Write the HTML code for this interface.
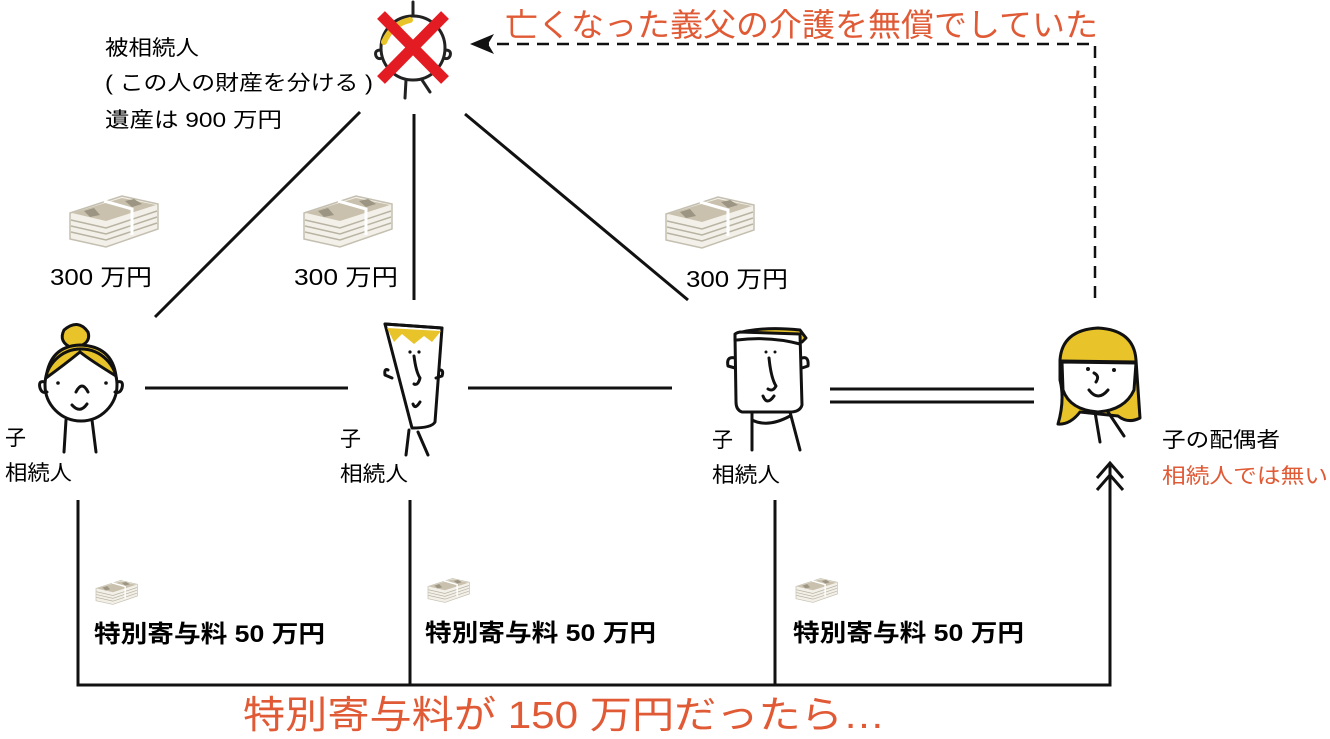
<!DOCTYPE html>
<html><head><meta charset="utf-8"><style>
html,body{margin:0;padding:0;background:#fff}
svg{display:block}
text{font-family:"Liberation Sans","Noto Sans CJK JP",sans-serif}
</style></head><body>
<svg width="1330" height="739" viewBox="0 0 1330 739" xmlns="http://www.w3.org/2000/svg">
<defs>
<g id="cash">
  <path d="M0 18 L52 1 L88 9 L88 34 L36 52 L0 44 Z" fill="#f2f0e8" stroke="#c4bfb0" stroke-width="1.5"/>
  <path d="M2 18 L52 3 L86 10 L36 26 Z" fill="#c9c1ad"/>
  <path d="M14 16 L24 13 L30 20 L20 22 Z M55 6 L64 4 L72 9 L62 12 Z" fill="#9d9583"/>
  <path d="M1 25 L36 33 L87 16 M1 31 L36 39 L87 22 M1 37 L36 45 L87 28" fill="none" stroke="#b9b3a3" stroke-width="1.5"/>
  <path d="M34 6 L62 14 L62 40 M62 14" fill="none" stroke="#fff" stroke-width="3"/>
</g>
<g id="cashs"><use href="#cash" transform="scale(0.47)"/></g>
</defs>

<!-- top deceased figure -->
<g stroke="#222" stroke-width="3" fill="none" stroke-linecap="round">
  <circle cx="413" cy="48" r="32" fill="#fff"/>
  <path d="M384 42 Q392 24 410 20" stroke="#e8c42a" stroke-width="6"/>
  <path d="M413 2 L413 16"/>
  <path d="M381 50 Q374 50 376 56 Q378 60 382 58 M445 50 Q452 50 450 56 Q448 60 444 58"/>
  <path d="M406 80 L405 98 M422 80 L430 92"/>
</g>
<path d="M381 15 L445 80 M445 15 L381 80" stroke="#e31c23" stroke-width="11"/>

<text x="105" y="55" font-size="21" textLength="94" lengthAdjust="spacingAndGlyphs">被相続人</text>
<text x="105" y="90" font-size="21" textLength="268" lengthAdjust="spacingAndGlyphs">( この人の財産を分ける )</text>
<text x="105" y="127" font-size="21" textLength="177" lengthAdjust="spacingAndGlyphs">遺産は 900 万円</text>

<text x="505" y="36" font-size="32" fill="#e05a35" textLength="593" lengthAdjust="spacingAndGlyphs">亡くなった義父の介護を無償でしていた</text>
<path d="M1095 298 L1095 44 L488 44" fill="none" stroke="#111" stroke-width="2.5" stroke-dasharray="12,8"/>
<path d="M470 44 L494 34 L488 44 L494 54 Z" fill="#111"/>

<g stroke="#111" stroke-width="3">
  <line x1="360" y1="112" x2="155" y2="317"/>
  <line x1="414" y1="114" x2="414" y2="300"/>
  <line x1="465" y1="114" x2="688" y2="300"/>
  <line x1="145" y1="388" x2="348" y2="388"/>
  <line x1="468" y1="388" x2="672" y2="388"/>
  <line x1="830" y1="389" x2="1034" y2="389"/>
  <line x1="830" y1="402" x2="1034" y2="402"/>
</g>

<use href="#cash" x="70" y="195"/>
<use href="#cash" x="304" y="195"/>
<use href="#cash" x="666" y="196"/>
<text x="50" y="285" font-size="23" textLength="102" lengthAdjust="spacingAndGlyphs">300 万円</text>
<text x="294" y="285" font-size="23" textLength="104" lengthAdjust="spacingAndGlyphs">300 万円</text>
<text x="686" y="287" font-size="23" textLength="102" lengthAdjust="spacingAndGlyphs">300 万円</text>

<!-- girl -->
<g stroke="#111" stroke-width="3" fill="none" stroke-linecap="round">
  <path d="M64 330 Q78 318 88 332 Q92 345 72 348 Q58 342 64 330 Z" fill="#e8c42a"/>
  <path d="M46 378 Q50 346 80 345 Q112 346 116 376 Q90 360 80 352 Q64 365 46 378 Z" fill="#e8c42a"/>
  <circle cx="81" cy="385" r="36"/>
  <path d="M45 382 Q38 380 40 388 Q42 394 47 392 M117 382 Q124 380 122 388 Q120 394 115 392"/>
  <path d="M76 392 Q82 380 88 392 M72 405 Q80 414 87 404"/>
  <path d="M66 420 L64 452 M92 420 L96 452"/>
</g>
<circle cx="58" cy="383" r="1.8" fill="#111"/><circle cx="106" cy="383" r="1.8" fill="#111"/>

<!-- man 2 -->
<g stroke="#111" stroke-width="3" fill="none" stroke-linecap="round" stroke-linejoin="round">
  <path d="M385 324 L442 328 L435 422 Q432 428 412 428 Z" fill="#fff"/>
  <path d="M387 328 L441 331 L432 342 L424 336 L414 344 L402 334 L394 342 Z" fill="#e8c42a" stroke="none"/>
  <path d="M385 324 L442 328"/>
  <path d="M414 356 Q416 372 420 378 Q418 386 414 384 M413 404 Q415 410 420 402"/>
  <path d="M388 370 Q384 368 385 375 L392 378 M440 370 Q444 370 442 376 L436 378"/>
  <path d="M409 430 L406 455 M418 432 L428 455"/>
</g>
<circle cx="410" cy="352" r="1.6" fill="#111"/><circle cx="419" cy="352" r="1.6" fill="#111"/>

<!-- man 3 -->
<g stroke="#111" stroke-width="3" fill="none" stroke-linecap="round" stroke-linejoin="round">
  <path d="M735 334 Q760 326 800 330 L806 338 L802 342 L735 340 Z" fill="#e8c42a"/>
  <path d="M735 335 Q735 333 740 332 L800 334 L802 405 Q800 412 790 412 L742 412 Q736 410 736 402 Z" fill="#fff"/>
  <path d="M737 340 Q770 336 800 344"/>
  <path d="M735 358 Q726 356 728 366 L735 368 M802 358 Q809 356 808 366 L802 368"/>
  <path d="M769 358 Q771 378 776 386 Q773 392 768 389 M763 396 Q767 406 774 396"/>
  <path d="M752 412 L752 450 M790 412 L800 450 M752 420 Q768 428 790 416"/>
</g>
<circle cx="766" cy="352" r="1.5" fill="#111"/><circle cx="775" cy="352" r="1.5" fill="#111"/>

<!-- woman -->
<g stroke="#111" stroke-width="3" fill="none" stroke-linecap="round" stroke-linejoin="round">
  <path d="M1060 360 Q1062 330 1098 328 Q1134 330 1136 360 L1140 418 Q1128 424 1118 416 L1080 412 Q1070 425 1058 424 Q1065 400 1060 380 Z" fill="#e8c42a"/>
  <path d="M1062 362 L1136 363 L1134 390 Q1125 410 1098 412 Q1070 410 1063 390 Z" fill="#fff"/>
  <path d="M1062 361 L1136 362"/>
  <path d="M1094 373 Q1100 376 1096 382 M1089 390 Q1098 402 1108 390"/>
  <path d="M1095 412 L1100 442 M1108 412 L1124 436"/>
</g>
<circle cx="1088" cy="369" r="2" fill="#111"/><circle cx="1114" cy="370" r="2" fill="#111"/>

<text x="5" y="445" font-size="21">子</text>
<text x="5" y="480" font-size="21" textLength="67" lengthAdjust="spacingAndGlyphs">相続人</text>
<text x="340" y="446" font-size="21">子</text>
<text x="340" y="481" font-size="21" textLength="68" lengthAdjust="spacingAndGlyphs">相続人</text>
<text x="712" y="447" font-size="21">子</text>
<text x="712" y="482" font-size="21" textLength="68" lengthAdjust="spacingAndGlyphs">相続人</text>
<text x="1162" y="447" font-size="21" textLength="118" lengthAdjust="spacingAndGlyphs">子の配偶者</text>
<text x="1162" y="483" font-size="21" fill="#e05a35" textLength="166" lengthAdjust="spacingAndGlyphs">相続人では無い</text>

<g stroke="#111" stroke-width="3" fill="none">
  <path d="M78 500 L78 685 L1110 685 L1110 465"/>
  <line x1="410" y1="500" x2="410" y2="685"/>
  <line x1="775" y1="500" x2="775" y2="685"/>
  <path d="M1097 478 L1110 463 L1123 478 M1097 490 L1110 475 L1123 490"/>
</g>

<use href="#cashs" x="96" y="580"/>
<use href="#cashs" x="428" y="578"/>
<use href="#cashs" x="796" y="578"/>
<text x="94" y="642" font-size="24" font-weight="bold" textLength="231" lengthAdjust="spacingAndGlyphs">特別寄与料 50 万円</text>
<text x="425" y="641" font-size="24" font-weight="bold" textLength="231" lengthAdjust="spacingAndGlyphs">特別寄与料 50 万円</text>
<text x="793" y="641" font-size="24" font-weight="bold" textLength="231" lengthAdjust="spacingAndGlyphs">特別寄与料 50 万円</text>

<text x="243" y="728" font-size="38" fill="#e05a35" textLength="642" lengthAdjust="spacingAndGlyphs">特別寄与料が 150 万円だったら…</text>
</svg>
</body></html>
